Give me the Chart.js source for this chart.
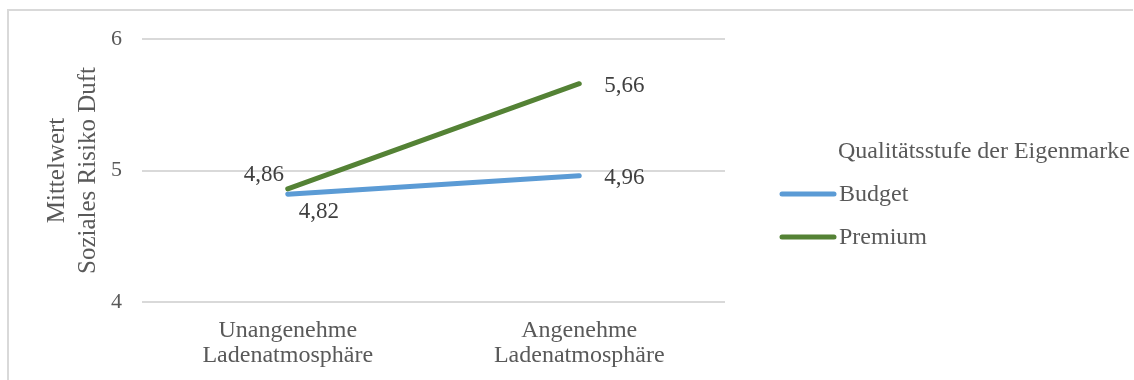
<!DOCTYPE html>
<html>
<head>
<meta charset="utf-8">
<script src="https://cdn.jsdelivr.net/npm/chart.js@4.4.1/dist/chart.umd.min.js"></script>
<style>
  html, body { margin: 0; padding: 0; background: #fff; }
  #wrap { position: relative; width: 1134px; height: 380px; }
</style>
</head>
<body>
<div id="wrap"><canvas id="meanChart" width="1134" height="380"></canvas></div>
<script>
// chart data
const categories = [['Unangenehme', 'Ladenatmosphäre'], ['Angenehme', 'Ladenatmosphäre']];
const budgetValues = [4.82, 4.96];
const premiumValues = [4.86, 5.66];
const seriesNames = ['Budget', 'Premium'];
const yAxisTitle = ['Mittelwert', 'Soziales Risiko Duft'];
const legendTitle = 'Qualitätsstufe der Eigenmarke';
const yMin = 4, yMax = 6, yStep = 1;

const serif = "'Liberation Serif', 'Times New Roman', serif";
const textGray = '#595959';

// offsets of value labels from their points (per dataset, per point)
const labelOffsets = [
    [[31, 18], [45, 2]],
    [[-24, -14], [45, 2]]
];

// frame around the chart (only top & left edge are in view)
const framePlugin = {
    id: 'frame',
    beforeDraw(chart) {
        const c = chart.ctx;
        c.save();
        c.strokeStyle = '#d9d9d9';
        c.lineWidth = 2;
        c.beginPath();
        c.moveTo(8, 400);
        c.lineTo(8, 10);
        c.lineTo(1133, 10);
        c.stroke();
        c.restore();
    }
};

// value labels next to the points
const valueLabels = {
    id: 'valueLabels',
    afterDatasetsDraw(chart) {
        const c = chart.ctx;
        c.save();
        c.font = '23px ' + serif;
        c.fillStyle = '#404040';
        c.textAlign = 'center';
        c.textBaseline = 'middle';
        chart.data.datasets.forEach((ds, i) => {
            chart.getDatasetMeta(i).data.forEach((pt, j) => {
                const off = labelOffsets[i][j];
                const txt = ds.data[j].toFixed(2).replace('.', ',');
                c.fillText(txt, pt.x + off[0], pt.y + off[1]);
            });
        });
        c.restore();
    }
};

// legend on the right, title above entries
const sideLegend = {
    id: 'sideLegend',
    afterDraw(chart) {
        const c = chart.ctx;
        c.save();
        c.fillStyle = textGray;
        c.textBaseline = 'middle';
        c.textAlign = 'left';
        c.font = '24px ' + serif;
        c.fillText(legendTitle, 838, 152);
        chart.data.datasets.forEach((ds, i) => {
            const y = 194 + i * 43;
            c.strokeStyle = ds.borderColor;
            c.lineWidth = 5;
            c.lineCap = 'round';
            c.beginPath();
            c.moveTo(782, y);
            c.lineTo(834, y);
            c.stroke();
            c.fillStyle = textGray;
            c.fillText(ds.label, 839, y + 1);
        });
        c.restore();
    }
};

const ctx = document.getElementById('meanChart').getContext('2d');

const meanChart = new Chart(ctx, {
    type: 'line',
    data: {
        labels: categories,
        datasets: [{
            label: seriesNames[0],
            data: budgetValues,
            borderColor: '#5b9bd5',
            backgroundColor: '#5b9bd5',
            borderWidth: 5,
            borderCapStyle: 'round',
            pointRadius: 0,
            tension: 0
        }, {
            label: seriesNames[1],
            data: premiumValues,
            borderColor: '#548235',
            backgroundColor: '#548235',
            borderWidth: 5,
            borderCapStyle: 'round',
            pointRadius: 0,
            tension: 0
        }]
    },
    options: {
        responsive: false,
        animation: false,
        events: [],
        layout: {
            padding: { left: 0, top: 39, right: 409, bottom: 0 }
        },
        plugins: {
            legend: { display: false },
            tooltip: { enabled: false }
        },
        scales: {
            x: {
                offset: true,
                grid: { display: false, drawTicks: false },
                border: { display: false },
                ticks: {
                    color: textGray,
                    padding: 16,
                    maxRotation: 0,
                    font: { family: serif, size: 24, lineHeight: 1.05 }
                },
                afterFit(scale) { scale.height = 78; }
            },
            y: {
                min: yMin,
                max: yMax,
                grid: { color: '#d9d9d9', lineWidth: 2, drawTicks: false },
                border: { display: false },
                ticks: {
                    stepSize: yStep,
                    color: textGray,
                    padding: 20,
                    font: { family: serif, size: 22 }
                },
                title: {
                    display: true,
                    text: yAxisTitle,
                    color: textGray,
                    padding: { top: 42, bottom: 0 },
                    font: { family: serif, size: 25, lineHeight: 1.24 }
                },
                afterFit(scale) { scale.width = 142; }
            }
        }
    },
    plugins: [framePlugin, valueLabels, sideLegend]
});
</script>
</body>
</html>
